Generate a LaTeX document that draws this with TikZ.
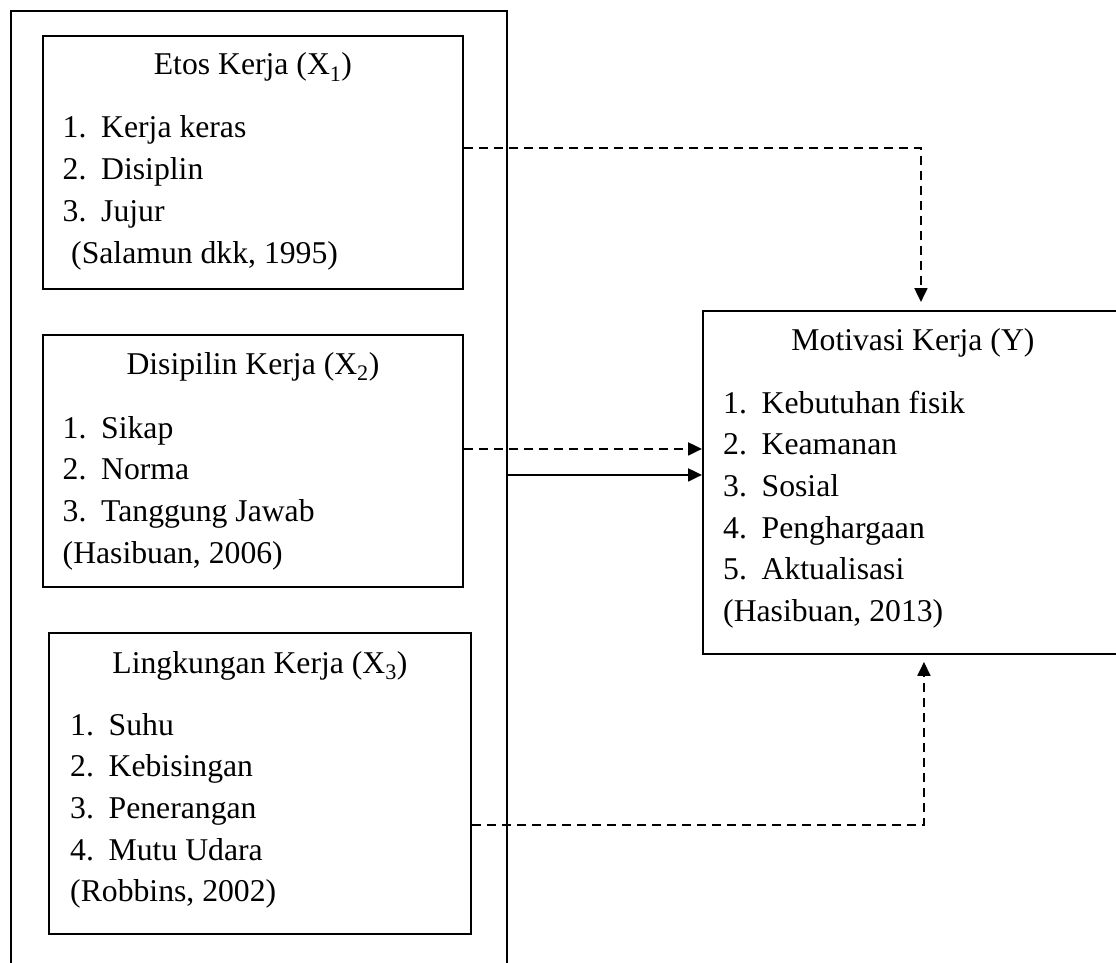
\documentclass[tikz,border=0pt]{standalone}
\usepackage{fontspec}
\setmainfont{Liberation Serif}
\usetikzlibrary{arrows.meta, positioning, calc}

\newcommand{\nomor}[1]{\makebox[38.5pt][l]{#1}}

\begin{document}
\begin{tikzpicture}[
    x=1pt, y=-1pt,
    font=\fontsize{31.7}{41.7}\selectfont,
    kotak/.style={draw=black, line width=1.9pt, minimum width=420pt, anchor=north west, inner sep=0pt},
    judul/.style={anchor=base, inner sep=0pt},
    butir/.style={anchor=base west, inner sep=0pt},
    putus/.style={line width=2pt, dash pattern=on 9pt off 6pt},
    panah/.style={-{Triangle[length=14pt, width=13pt]}, line width=2pt},
]
\useasboundingbox (0,0) rectangle (1116,963);

% --- kotak luar (variabel X) ---
\node[kotak, minimum width=496pt, minimum height=1000pt] (luar) at (10,10) {};

% ================= ETOS KERJA (X1) =================
\node[kotak, minimum height=253pt] (etos) at (42,35) {};
\node[judul] (etos-j) at ($(etos.north)+(0,40)$) {Etos Kerja (X\textsubscript{1})};
\node[butir] (etos-1) at ($(etos.north west)+(20.5,103)$) {\nomor{1.}Kerja keras};
\node[butir] (etos-2) at ($(etos.north west)+(20.5,144.7)$) {\nomor{2.}Disiplin};
\node[butir] (etos-3) at ($(etos.north west)+(20.5,186.4)$) {\nomor{3.}Jujur};
\node[butir] (etos-s) at ($(etos.north west)+(29,228.1)$) {(Salamun dkk, 1995)};

% ================= DISIPLIN KERJA (X2) =================
\node[kotak, minimum height=252pt] (disiplin) at (42,334) {};
\node[judul] (disiplin-j) at ($(disiplin.north)+(0,40)$) {Disipilin Kerja (X\textsubscript{2})};
\node[butir] (disiplin-1) at ($(disiplin.north west)+(20.5,104)$) {\nomor{1.}Sikap};
\node[butir] (disiplin-2) at ($(disiplin.north west)+(20.5,145.7)$) {\nomor{2.}Norma};
\node[butir] (disiplin-3) at ($(disiplin.north west)+(20.5,187.4)$) {\nomor{3.}Tanggung Jawab};
\node[butir] (disiplin-s) at ($(disiplin.north west)+(20.5,229.1)$) {(Hasibuan, 2006)};

% ================= LINGKUNGAN KERJA (X3) =================
\node[kotak, minimum width=422pt, minimum height=301pt] (lingkungan) at (48,632) {};
\node[judul] (lingkungan-j) at ($(lingkungan.north)+(0,41)$) {Lingkungan Kerja (X\textsubscript{3})};
\node[butir] (lingkungan-1) at ($(lingkungan.north west)+(22,103)$) {\nomor{1.}Suhu};
\node[butir] (lingkungan-2) at ($(lingkungan.north west)+(22,144.7)$) {\nomor{2.}Kebisingan};
\node[butir] (lingkungan-3) at ($(lingkungan.north west)+(22,186.4)$) {\nomor{3.}Penerangan};
\node[butir] (lingkungan-4) at ($(lingkungan.north west)+(22,228.1)$) {\nomor{4.}Mutu Udara};
\node[butir] (lingkungan-s) at ($(lingkungan.north west)+(22,269.8)$) {(Robbins, 2002)};

% ================= MOTIVASI KERJA (Y) =================
\node[kotak, minimum height=343pt] (motivasi) at (702,310) {};
\node[judul] (motivasi-j) at ($(motivasi.north)+(0,40)$) {Motivasi Kerja (Y)};
\node[butir] (motivasi-1) at ($(motivasi.north west)+(21,103)$) {\nomor{1.}Kebutuhan fisik};
\node[butir] (motivasi-2) at ($(motivasi.north west)+(21,144.7)$) {\nomor{2.}Keamanan};
\node[butir] (motivasi-3) at ($(motivasi.north west)+(21,186.4)$) {\nomor{3.}Sosial};
\node[butir] (motivasi-4) at ($(motivasi.north west)+(21,228.1)$) {\nomor{4.}Penghargaan};
\node[butir] (motivasi-5) at ($(motivasi.north west)+(21,269.8)$) {\nomor{5.}Aktualisasi};
\node[butir] (motivasi-s) at ($(motivasi.north west)+(21,311.5)$) {(Hasibuan, 2013)};

% --- panah ---
\draw[putus, panah, shorten >=8pt] ([yshift=14.5pt]etos.east) -| ([xshift=8pt]motivasi.north);
\draw[putus, panah] ([yshift=12pt]disiplin.east) -- ([yshift=12pt]disiplin.east -| motivasi.west);
\draw[panah] ([yshift=7.5pt]luar.east |- motivasi.west) -- ([yshift=7.5pt]motivasi.west);
\draw[putus, panah, shorten >=7pt] ([yshift=-41.5pt]lingkungan.east) -| ([xshift=11pt]motivasi.south);

\end{tikzpicture}
\end{document}
